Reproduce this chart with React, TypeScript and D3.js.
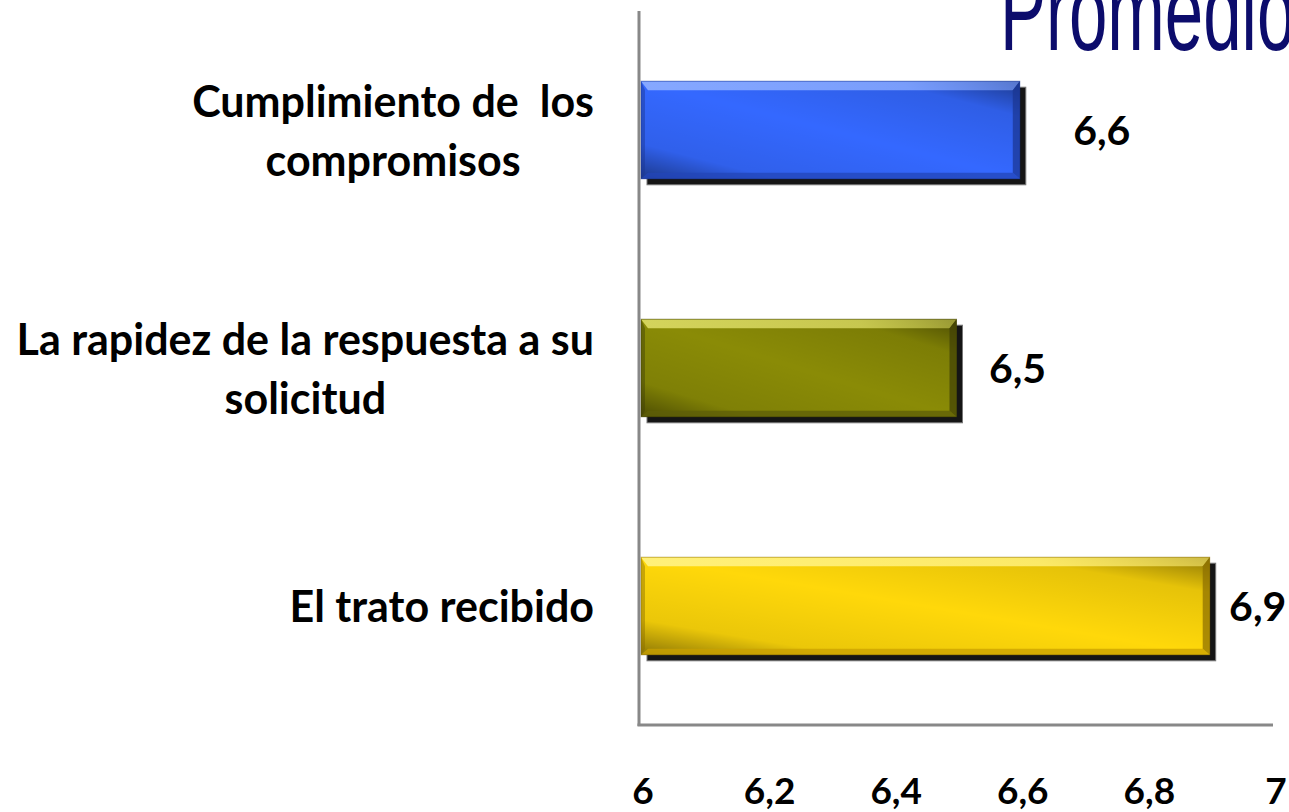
import React, { useEffect, useRef } from "react";
import * as d3 from "d3";

// ---- data ----
const categories = [
  "Cumplimiento de  los compromisos",
  "La rapidez de la respuesta a su solicitud",
  "El trato recibido",
];
const categoryLines = [
  ["Cumplimiento de  los", "compromisos"],
  ["La rapidez de la respuesta a su", "solicitud"],
  ["El trato recibido"],
];
const values = [6.6, 6.5, 6.9];
const valueLabels = ["6,6", "6,5", "6,9"];
const tickValues = [6, 6.2, 6.4, 6.6, 6.8, 7];
const tickLabels = ["6", "6,2", "6,4", "6,6", "6,8", "7"];
const valueLabelNudge = [82, 61, 48];
const titleText = "Promedio";

const palettes = [
  { base: "#3468FF", light: "#86A8FF", dark: "#1A3590", edge: "#2346B8" },
  { base: "#8A8B06", light: "#D4D45C", dark: "#3E3E06", edge: "#5E5E08" },
  { base: "#FFD80A", light: "#FFF07A", dark: "#8A6C00", edge: "#C9A000" },
];

const W = 1289;
const H = 812;
const FONT = "Lato, 'Open Sans', sans-serif";

export default function App() {
  const ref = useRef<SVGSVGElement>(null);

  useEffect(() => {
    const svg = d3.select(ref.current);
    svg.selectAll("*").remove();

    const x = d3.scaleLinear().domain([6, 7]).range([640, 1273]);
    const y = d3
      .scaleBand<string>()
      .domain(categories)
      .range([11, 725])
      .paddingInner(0.59)
      .paddingOuter(0.295);

    const defs = svg.append("defs");
    palettes.forEach((p, i) => {
      const gd = defs
        .append("linearGradient")
        .attr("id", `gd${i}`)
        .attr("x1", 0)
        .attr("y1", 1)
        .attr("x2", 1)
        .attr("y2", 0);
      gd.append("stop").attr("offset", 0).attr("stop-color", "#000").attr("stop-opacity", 0.45);
      gd.append("stop").attr("offset", 0.18).attr("stop-color", "#000").attr("stop-opacity", 0.08);
      gd.append("stop").attr("offset", 0.5).attr("stop-color", "#000").attr("stop-opacity", 0);
      gd.append("stop").attr("offset", 0.82).attr("stop-color", "#000").attr("stop-opacity", 0.1);
      gd.append("stop").attr("offset", 1).attr("stop-color", "#000").attr("stop-opacity", 0.45);

      const gt = defs
        .append("linearGradient")
        .attr("id", `gt${i}`)
        .attr("x1", 0)
        .attr("y1", 0)
        .attr("x2", 1)
        .attr("y2", 0);
      gt.append("stop").attr("offset", 0).attr("stop-color", p.light);
      gt.append("stop").attr("offset", 0.7).attr("stop-color", p.light).attr("stop-opacity", 0.85);
      gt.append("stop").attr("offset", 1).attr("stop-color", p.light).attr("stop-opacity", 0.55);
    });

    // title (partly cut off at the top, as in the reference)
    svg
      .append("text")
      .attr("transform", "translate(1000,50) scale(1,1.6)")
      .attr("font-family", "'Liberation Sans', Arial, sans-serif")
      .attr("font-size", 69)
      .attr("fill", "#0C0C6C")
      .text(titleText);

    // bars
    const bars = svg.append("g").selectAll("g").data(values).join("g");

    const b = 7;
    bars.each(function (v, i) {
      const g = d3.select(this);
      const p = palettes[i];
      const x0 = x(6) + 1;
      const x1 = x(v);
      const y0 = y(categories[i])!;
      const h = y.bandwidth();
      const y1 = y0 + h;
      const w = x1 - x0;
      // shadow
      g.append("rect")
        .attr("x", x0 + 6)
        .attr("y", y0 + 6)
        .attr("width", w)
        .attr("height", h)
        .attr("fill", "#151515")
        .attr("stroke", "#777")
        .attr("stroke-width", 1);
      // body
      g.append("rect").attr("x", x0).attr("y", y0).attr("width", w).attr("height", h).attr("fill", p.base);
      g.append("rect").attr("x", x0).attr("y", y0).attr("width", w).attr("height", h).attr("fill", `url(#gd${i})`);
      // bevels
      g.append("polygon")
        .attr("points", `${x0},${y0} ${x1},${y0} ${x1 - b},${y0 + b + 2} ${x0 + b},${y0 + b + 2}`)
        .attr("fill", `url(#gt${i})`);
      g.append("polygon")
        .attr("points", `${x0},${y1} ${x1},${y1} ${x1 - b},${y1 - b + 1} ${x0 + b},${y1 - b + 1}`)
        .attr("fill", p.edge)
        .attr("opacity", 0.75);
      g.append("polygon")
        .attr("points", `${x1},${y0} ${x1},${y1} ${x1 - b},${y1 - b + 1} ${x1 - b},${y0 + b + 2}`)
        .attr("fill", p.dark)
        .attr("opacity", 0.7);
      g.append("polygon")
        .attr("points", `${x0},${y0} ${x0},${y1} ${x0 + b - 3},${y1 - b + 1} ${x0 + b - 3},${y0 + b + 2}`)
        .attr("fill", p.dark)
        .attr("opacity", 0.45);
      g.append("rect")
        .attr("x", x0)
        .attr("y", y0)
        .attr("width", w)
        .attr("height", h)
        .attr("fill", "none")
        .attr("stroke", p.dark)
        .attr("stroke-opacity", 0.5)
        .attr("stroke-width", 1);
    });

    // axes
    svg
      .append("line")
      .attr("x1", x(6) - 1)
      .attr("x2", x(6) - 1)
      .attr("y1", 11)
      .attr("y2", 726)
      .attr("stroke", "#888")
      .attr("stroke-width", 3);
    svg
      .append("line")
      .attr("x1", x(6) - 2.5)
      .attr("x2", x(7))
      .attr("y1", 725)
      .attr("y2", 725)
      .attr("stroke", "#888")
      .attr("stroke-width", 3);

    // tick labels
    svg
      .append("g")
      .selectAll("text")
      .data(tickValues)
      .join("text")
      .attr("x", (d) => x(d) + 3)
      .attr("y", 804)
      .attr("text-anchor", "middle")
      .attr("font-family", FONT)
      .attr("font-weight", 700)
      .attr("font-size", 37)
      .attr("fill", "#000")
      .text((d, i) => tickLabels[i]);

    // value labels
    svg
      .append("g")
      .selectAll("text")
      .data(values)
      .join("text")
      .attr("x", (d, i) => x(d) + valueLabelNudge[i])
      .attr("y", (d, i) => y(categories[i])! + y.bandwidth() / 2 + 15)
      .attr("text-anchor", "middle")
      .attr("font-family", FONT)
      .attr("font-weight", 700)
      .attr("font-size", 41)
      .attr("fill", "#000")
      .text((d, i) => valueLabels[i]);

    // category labels
    const lineGap = 59;
    const right = 594;
    categoryLines.forEach((lines, i) => {
      const c = y(categories[i])! + y.bandwidth() / 2;
      const g = svg.append("g");
      const texts = lines.map((ln, k) =>
        g
          .append("text")
          .attr("y", c + 16 + (k - (lines.length - 1) / 2) * lineGap)
          .attr("text-anchor", "middle")
          .attr("font-family", FONT)
          .attr("font-weight", 700)
          .attr("font-size", 43)
          .attr("fill", "#000")
          .style("white-space", "pre")
          .text(ln)
      );
      const widths = texts.map((t) => (t.node() as SVGTextElement).getComputedTextLength());
      const maxW = d3.max(widths) || 0;
      texts.forEach((t) => t.attr("x", right - maxW / 2));
    });
  }, []);

  return (
    <svg
      ref={ref}
      width={W}
      height={H}
      style={{ position: "absolute", left: 0, top: 0, display: "block", background: "#fff" }}
    />
  );
}
